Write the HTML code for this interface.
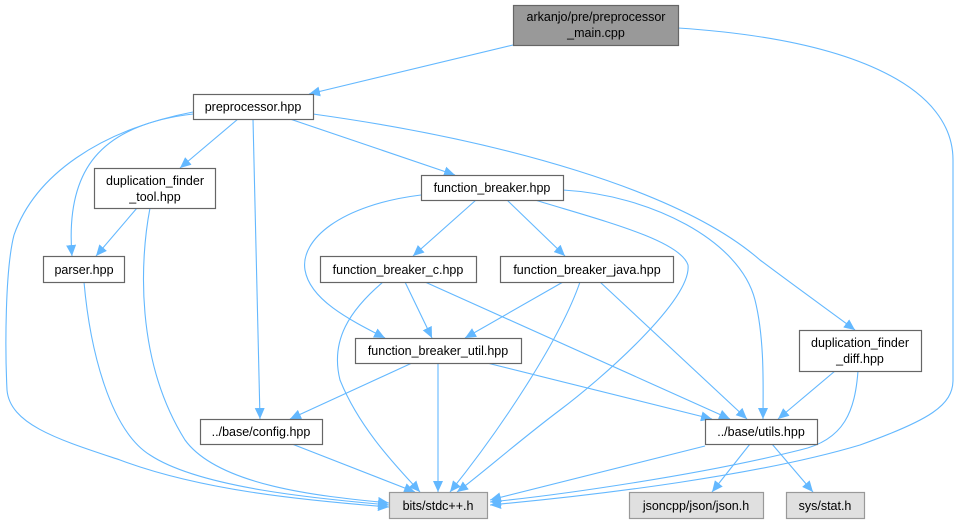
<!DOCTYPE html>
<html><head><meta charset="utf-8"><style>
html,body{margin:0;padding:0;background:#fff;}
svg{display:block;}
text{font-family:"Liberation Sans",Arial,sans-serif;font-size:12.5px;fill:#000;text-anchor:middle;}
.e{fill:none;stroke:#63b8ff;stroke-width:1.1;marker-end:url(#a);}
.n{fill:#fff;stroke:#666;stroke-width:1.2;}
.g{fill:#e0e0e0;stroke:#999;stroke-width:1.2;}
</style></head><body>
<svg width="964" height="523" viewBox="0 0 964 523">
<defs><marker id="a" markerUnits="userSpaceOnUse" markerWidth="12" markerHeight="10" refX="11" refY="5" orient="auto"><path d="M0,0 L11,5 L0,10 z" fill="#63b8ff"/></marker></defs>
<path class="e" d="M513,45 L309,94"/>
<path class="e" d="M678,28 C860,40 953,90 953,160 L953,380 C953,405 930,420 860,445 C760,475 600,495 490,505"/>
<path class="e" d="M193,114 C100,125 65,170 72,256"/>
<path class="e" d="M193,112 C100,130 35,175 14,235 C5,270 5,350 7,390 C10,425 60,440 120,460 C200,490 300,500 389,507"/>
<path class="e" d="M238,119 L180,168"/>
<path class="e" d="M253,119 L260,419"/>
<path class="e" d="M290,119 L455,175"/>
<path class="e" d="M313,114 C500,140 680,190 760,260 C800,290 835,315 855,330"/>
<path class="e" d="M137,208 L96,256"/>
<path class="e" d="M150,208 C140,260 135,360 185,440 C220,488 330,497 389,503"/>
<path class="e" d="M84,282 C90,350 110,430 150,455 C200,488 320,499 389,505"/>
<path class="e" d="M421,195 C340,205 300,240 305,270 C310,300 350,320 385,338"/>
<path class="e" d="M476,200 L413,256"/>
<path class="e" d="M507,200 L565,256"/>
<path class="e" d="M563,190 C650,195 740,240 755,300 C765,340 763,390 763,419"/>
<path class="e" d="M535,200 C600,220 680,240 688,265 C692,300 600,380 560,410 C520,440 480,475 457,492"/>
<path class="e" d="M405,282 L432,338"/>
<path class="e" d="M383,282 C350,310 330,340 340,380 C360,430 400,470 420,492"/>
<path class="e" d="M425,282 L730,419"/>
<path class="e" d="M563,282 L465,338"/>
<path class="e" d="M580,282 C560,340 500,430 450,492"/>
<path class="e" d="M600,282 L747,419"/>
<path class="e" d="M412,363 L290,419"/>
<path class="e" d="M438,363 L438,492"/>
<path class="e" d="M487,363 L712,419"/>
<path class="e" d="M835,371 L778,419"/>
<path class="e" d="M858,371 C855,410 845,440 800,450 C700,475 560,495 490,502"/>
<path class="e" d="M292,444 L415,492"/>
<path class="e" d="M705,446 L490,500"/>
<path class="e" d="M750,444 L712,492"/>
<path class="e" d="M772,444 L813,492"/>

<rect x="513.5" y="5.5" width="165" height="40" fill="#999" stroke="#666" stroke-width="1.2"/>
<text x="596" y="21">arkanjo/pre/preprocessor</text><text x="596" y="37">_main.cpp</text>
<rect class="n" x="193.5" y="94.5" width="120" height="25"/><text x="253" y="111">preprocessor.hpp</text>
<rect class="n" x="94.5" y="168.5" width="121" height="40"/><text x="155" y="185">duplication_finder</text><text x="155" y="201">_tool.hpp</text>
<rect class="n" x="421.5" y="175.5" width="142" height="25"/><text x="492" y="192">function_breaker.hpp</text>
<rect class="n" x="43.5" y="256.5" width="81" height="26"/><text x="84" y="274">parser.hpp</text>
<rect class="n" x="320.5" y="256.5" width="156" height="26"/><text x="398" y="274">function_breaker_c.hpp</text>
<rect class="n" x="500.5" y="256.5" width="173" height="26"/><text x="587" y="274">function_breaker_java.hpp</text>
<rect class="n" x="355.5" y="338.5" width="166" height="25"/><text x="438" y="355">function_breaker_util.hpp</text>
<rect class="n" x="799.5" y="330.5" width="122" height="41"/><text x="860" y="347">duplication_finder</text><text x="860" y="363">_diff.hpp</text>
<rect class="n" x="200.5" y="419.5" width="122" height="25"/><text x="261" y="436">../base/config.hpp</text>
<rect class="n" x="705.5" y="419.5" width="112" height="25"/><text x="761" y="436">../base/utils.hpp</text>
<rect class="g" x="389.5" y="492.5" width="98" height="26"/><text x="438" y="510">bits/stdc++.h</text>
<rect class="g" x="629.5" y="492.5" width="134" height="26"/><text x="696" y="510">jsoncpp/json/json.h</text>
<rect class="g" x="786.5" y="492.5" width="78" height="26"/><text x="825" y="510">sys/stat.h</text>
</svg>
</body></html>
